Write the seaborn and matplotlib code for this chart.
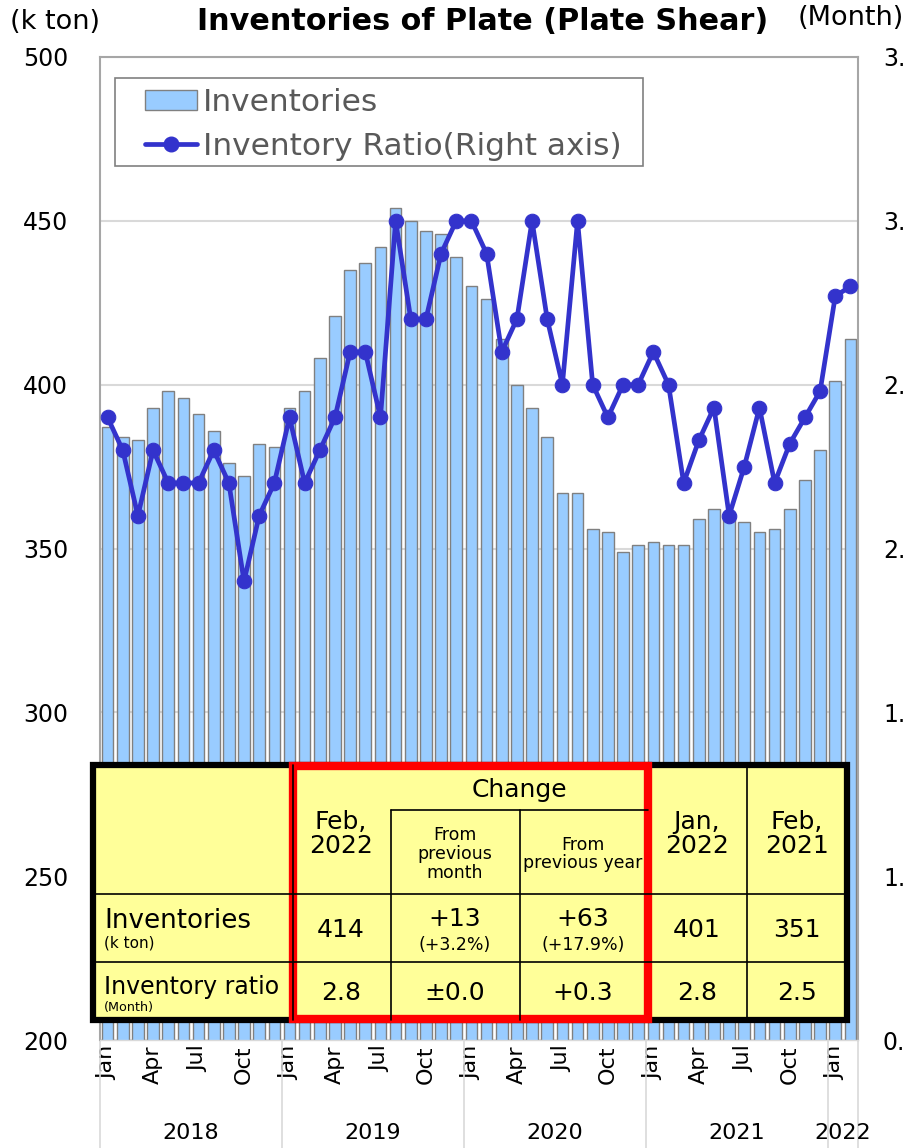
import numpy as np
import pandas as pd
import matplotlib
matplotlib.use("Agg")
import matplotlib.pyplot as plt
import matplotlib.transforms as mtransforms
from matplotlib.patches import Patch, Rectangle
from matplotlib.lines import Line2D
import seaborn as sns

sns.set_style("white")
plt.rcParams['font.family'] = ['DejaVu Sans']
for key in ['text.color', 'axes.labelcolor', 'xtick.color', 'ytick.color']:
    plt.rcParams[key] = 'black'

# monthly data, Jan 2018 - Feb 2022
inv_2018 = [387, 384, 383, 393, 398, 396, 391, 386, 376, 372, 382, 381]
inv_2019 = [393, 398, 408, 421, 435, 437, 442, 454, 450, 447, 446, 439]
inv_2020 = [430, 426, 414, 400, 393, 384, 367, 367, 356, 355, 349, 351]
inv_2021 = [352, 351, 351, 359, 362, 360, 358, 355, 356, 362, 371, 380]
inv_2022 = [401, 414]

ratio_2018 = [2.4, 2.3, 2.1, 2.3, 2.2, 2.2, 2.2, 2.3, 2.2, 1.9, 2.1, 2.2]
ratio_2019 = [2.4, 2.2, 2.3, 2.4, 2.6, 2.6, 2.4, 3.0, 2.7, 2.7, 2.9, 3.0]
ratio_2020 = [3.0, 2.9, 2.6, 2.7, 3.0, 2.7, 2.5, 3.0, 2.5, 2.4, 2.5, 2.5]
ratio_2021 = [2.6, 2.5, 2.2, 2.33, 2.43, 2.1, 2.25, 2.43, 2.2, 2.32, 2.4, 2.48]
ratio_2022 = [2.77, 2.8]

years = ['2018', '2019', '2020', '2021', '2022']
month_names = ['Jan', 'Feb', 'Mar', 'Apr', 'May', 'Jun',
               'Jul', 'Aug', 'Sep', 'Oct', 'Nov', 'Dec']
shown_months = ['Jan', 'Apr', 'Jul', 'Oct']

inventories = inv_2018 + inv_2019 + inv_2020 + inv_2021 + inv_2022
ratio = ratio_2018 + ratio_2019 + ratio_2020 + ratio_2021 + ratio_2022
n = len(inventories)
months = [month_names[i % 12] for i in range(n)]
year_of = [years[i // 12] for i in range(n)]

df = pd.DataFrame({'idx': np.arange(n), 'month': months, 'year': year_of,
                   'inv': inventories, 'ratio': ratio})

# summary table
tbl_cols = ['Feb,\n2022', 'From\nprevious\nmonth', 'From\nprevious year', 'Jan,\n2022', 'Feb,\n2021']
tbl_inv = ['414', '+13', '+63', '401', '351']
tbl_inv_pct = ['', '(+3.2%)', '(+17.9%)', '', '']
tbl_ratio = ['2.8', '±0.0', '+0.3', '2.8', '2.5']

bar_color = '#99CCFF'
line_color = '#3333CC'

fig = plt.figure(figsize=(9.06, 11.48), dpi=100)
ax = fig.add_axes([100 / 906, 1 - 1040 / 1148, 758 / 906, 983 / 1148])

sns.barplot(data=df, x='idx', y='inv', ax=ax, color=bar_color, saturation=1,
            edgecolor='#808080', linewidth=1, width=0.77)
ax.set_ylim(200, 500)
ax.set_xlim(-0.5, n - 0.5)
ax.set_yticks(np.arange(200, 501, 50))
ax.yaxis.grid(True, color='#D9D9D9', linewidth=1.5)
ax.set_axisbelow(True)
ax.set_xlabel('')
ax.set_ylabel('')
ax.tick_params(axis='y', length=0, pad=23, labelsize=17)

tick_pos = [i for i in range(n) if months[i] in shown_months]
ax.set_xticks(tick_pos)
ax.set_xticklabels([months[i] for i in tick_pos], rotation=90, va='top')
ax.tick_params(axis='x', length=0, pad=4, labelsize=16)

for side in ['left', 'right', 'top']:
    ax.spines[side].set_color('#A6A6A6')
    ax.spines[side].set_linewidth(1.5)
ax.spines['bottom'].set_color('#D9D9D9')
ax.spines['bottom'].set_linewidth(1)

# year separators and labels under the axis
trans = mtransforms.blended_transform_factory(ax.transData, ax.transAxes)
bounds = [-0.5] + [i - 0.5 for i in range(12, n, 12)] + [n - 0.5]
for b in bounds:
    ax.plot([b, b], [0, -0.112], transform=trans, color='#D9D9D9',
            linewidth=1.2, clip_on=False)
for k, yr in enumerate(years):
    start = k * 12
    end = min(start + 12, n)
    ax.text((start + end - 1) / 2, -0.0945, yr, transform=trans,
            ha='center', va='center', fontsize=16)

ax2 = ax.twinx()
sns.lineplot(data=df, x='idx', y='ratio', ax=ax2, color=line_color,
             linewidth=3.4, marker='o', markersize=10.5,
             markeredgecolor=line_color, markerfacecolor=line_color)
ax2.set_ylim(0.5, 3.5)
ax2.set_xlim(-0.5, n - 0.5)
ax2.set_yticks(np.arange(0.5, 3.51, 0.5))
ax2.set_yticklabels([f'{v:.1f}' for v in np.arange(0.5, 3.51, 0.5)])
ax2.tick_params(axis='y', length=0, pad=18, labelsize=17)
ax2.set_ylabel('')
ax2.set_xlabel('')
for s in ax2.spines.values():
    s.set_visible(False)

fig.text(483 / 906, 1 - 22 / 1148, 'Inventories of Plate (Plate Shear)',
         ha='center', va='center', fontsize=21.8, fontweight='bold')
fig.text(10 / 906, 1 - 22 / 1148, '(k ton)', ha='left', va='center', fontsize=19.5)
fig.text(904 / 906, 1 - 18 / 1148, '(Month)', ha='right', va='center', fontsize=19.5)

# overlay drawn in pixel coordinates (legend box + table)
ov = fig.add_axes([0, 0, 1, 1], zorder=10)
ov.set_xlim(0, 906)
ov.set_ylim(1148, 0)
ov.axis('off')

ov.add_patch(Rectangle((115, 78), 528, 88, facecolor='white',
                       edgecolor='#808080', linewidth=1.2))
handles = [Patch(facecolor=bar_color, edgecolor='#808080', linewidth=1),
           Line2D([0], [0], color=line_color, linewidth=3.4, marker='o',
                  markersize=10.5)]
ov.legend(handles, ['Inventories', 'Inventory Ratio(Right axis)'],
          loc='upper left', bbox_to_anchor=(145 / 906, 1 - 88 / 1148),
          borderaxespad=0, borderpad=0, fontsize=22.5, frameon=False,
          handlelength=1.66, handleheight=0.6, handletextpad=0.19,
          labelspacing=0.47, labelcolor='#595959')

x0, x1 = 93, 847
y0, y3 = 765, 1020
row_y = [894, 962]
ov.add_patch(Rectangle((x0, y0), x1 - x0, y3 - y0, facecolor='#FFFF99',
                       edgecolor='none'))
thin = dict(color='black', linewidth=1.2)
for ry in row_y:
    ov.plot([x0, x1], [ry, ry], **thin)
ov.plot([391, 648], [810, 810], **thin)
ov.plot([391, 391], [810, y3], **thin)
ov.plot([520, 520], [810, y3], **thin)
ov.plot([747, 747], [y0, y3], **thin)
ov.plot([293, 293], [y0, y3], **thin)
ov.add_patch(Rectangle((x0, y0), x1 - x0, y3 - y0, facecolor='none',
                       edgecolor='black', linewidth=4.5))
ov.add_patch(Rectangle((293, 766), 355, 253, facecolor='none',
                       edgecolor='#FF0000', linewidth=6))

centers = [341, 455, 583, 697, 797]
ov.text(519, 790, 'Change', ha='center', va='center', fontsize=18)
head_sizes = [18, 12.5, 12.5, 18, 18]
head_y = [834, 854, 854, 834, 834]
for cx, lab, fs, hy in zip(centers, tbl_cols, head_sizes, head_y):
    ov.text(cx, hy, lab, ha='center', va='center', fontsize=fs, linespacing=1.05)

ov.text(104, 921, 'Inventories', ha='left', va='center', fontsize=18.8)
ov.text(104, 943, '(k ton)', ha='left', va='center', fontsize=11)
ov.text(104, 987, 'Inventory ratio', ha='left', va='center', fontsize=17)
ov.text(104, 1008, '(Month)', ha='left', va='center', fontsize=9.2)

for cx, v, p in zip(centers, tbl_inv, tbl_inv_pct):
    if p:
        ov.text(cx, 919, v, ha='center', va='center', fontsize=18)
        ov.text(cx, 945, p, ha='center', va='center', fontsize=12.5)
    else:
        ov.text(cx, 930, v, ha='center', va='center', fontsize=18)
for cx, v in zip(centers, tbl_ratio):
    ov.text(cx, 993, v, ha='center', va='center', fontsize=18)

fig.savefig('out.png', dpi=100)
